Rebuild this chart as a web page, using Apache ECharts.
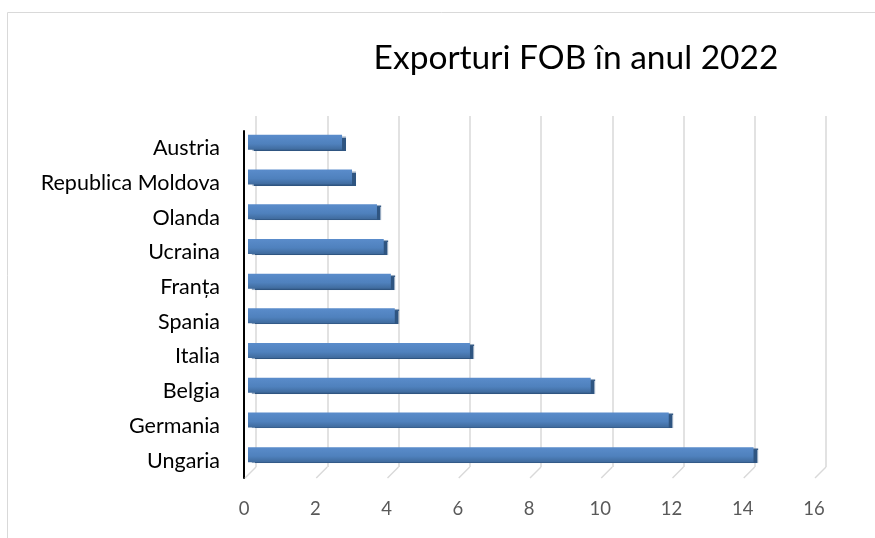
<!DOCTYPE html>
<html style="height: 100%; margin: 0;">
<head>
    <meta charset="utf-8" />
    <title>Exporturi FOB</title>
    <script src="https://cdn.jsdelivr.net/npm/echarts@6/dist/echarts.min.js"></script>
</head>
<body style="height: 100%; margin: 0; background: #fff;">
<div id="main" style="width: 875px; height: 538px;"></div>
<script type="text/javascript">
var tari = ['Austria', 'Republica Moldova', 'Olanda', 'Ucraina', 'Franța', 'Spania', 'Italia', 'Belgia', 'Germania', 'Ungaria'];
var valori = [2.64, 2.92, 3.62, 3.81, 4.01, 4.12, 6.23, 9.62, 11.81, 14.19];
var tickuri = [0, 2, 4, 6, 8, 10, 12, 14, 16];

var myChart = echarts.init(document.getElementById('main'));
var font = 'Lato';

myChart.setOption({
    animation: false,
    title: {
        text: 'Exporturi FOB în anul 2022',
        left: 571,
        top: 36,
        textAlign: 'center',
        textStyle: { fontFamily: font, fontSize: 33.5, fontWeight: 'normal', color: '#000' }
    },
    graphic: [{
        type: 'rect',
        shape: { x: 7.5, y: 12.5, width: 900, height: 600 },
        style: { fill: 'none', stroke: '#d9d9d9', lineWidth: 1 },
        z: -10
    }],
    grid: [
        // front plane: labels + black axis
        { left: 244, width: 570, top: 131, height: 347 },
        // bars, slightly pushed back
        { left: 248, width: 570, top: 125, height: 347 },
        // back wall gridlines
        { left: 256, width: 570, top: 116, height: 351 }
    ],
    xAxis: [
        { gridIndex: 0, type: 'value', min: 0, max: 16, interval: 2,
          axisLine: { show: false }, axisTick: { show: false }, splitLine: { show: false },
          axisLabel: { margin: 22, fontFamily: font, fontSize: 18.5, color: '#595959' } },
        { gridIndex: 1, type: 'value', min: 0, max: 16, show: false },
        { gridIndex: 2, type: 'value', min: 0, max: 16, interval: 2,
          axisLine: { show: false }, axisTick: { show: false }, axisLabel: { show: false },
          splitLine: { show: true, lineStyle: { color: '#d9d9d9', width: 1.5 } } }
    ],
    yAxis: [
        { gridIndex: 0, type: 'category', data: tari, inverse: true,
          axisLine: { show: true, lineStyle: { color: '#000', width: 2 } },
          axisTick: { show: false },
          axisLabel: { margin: 24, fontFamily: font, fontSize: 21.5, color: '#000' } },
        { gridIndex: 1, type: 'category', data: tari, inverse: true, show: false },
        { gridIndex: 2, type: 'category', data: tari, inverse: true, show: false }
    ],
    series: [
        {
            // floor diagonals from back wall to front labels
            type: 'custom',
            xAxisIndex: 0, yAxisIndex: 0,
            data: tickuri,
            silent: true,
            z: 1,
            renderItem: function (params, api) {
                var v = api.value(0);
                var cs = params.coordSys;
                var x = api.coord([v, 0])[0];
                var yb = cs.y + cs.height;
                return {
                    type: 'line',
                    shape: { x1: x + 1, y1: yb, x2: x + 12, y2: yb - 11 },
                    style: { stroke: '#d9d9d9', lineWidth: 1.5 }
                };
            },
            encode: { x: 0 }
        },
        {
            type: 'bar',
            xAxisIndex: 1, yAxisIndex: 1,
            data: valori,
            barWidth: 15,
            z: 3,
            itemStyle: {
                color: new echarts.graphic.LinearGradient(0, 0, 0, 1, [
                    { offset: 0, color: '#5a8ccb' },
                    { offset: 0.6, color: '#4f81bd' },
                    { offset: 1, color: '#3f6a9c' }
                ]),
                shadowColor: '#2f5581',
                shadowOffsetX: 4,
                shadowOffsetY: 1,
                shadowBlur: 1
            }
        }
    ]
});
window.onresize = myChart.resize;
</script>
</body>
</html>
